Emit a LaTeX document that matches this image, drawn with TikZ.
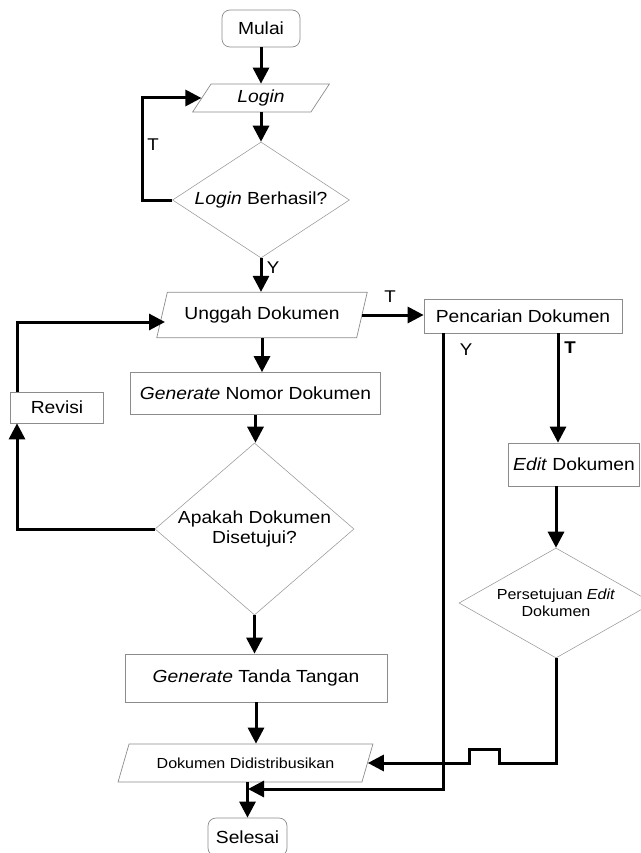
\documentclass[tikz,border=0pt]{standalone}
\usepackage{fontspec}
\setmainfont{Liberation Sans}[FakeStretch=1.1]
\usetikzlibrary{shapes.geometric,arrows.meta,calc}
\tikzset{
  arr/.style={line width=3pt,-{Triangle[length=16pt,width=16pt]}},
  big/.style={font=\fontsize{17.5}{20}\selectfont},
  small/.style={font=\fontsize{14.6}{17.5}\selectfont},
  box/.style={draw=gray!90,line width=0.7pt,fill=white,rectangle,inner sep=0pt,big},
  term/.style={box,rounded corners=8pt},
  io/.style={draw=gray!90,line width=0.7pt,fill=white,trapezium,trapezium stretches=true,inner sep=0pt,big},
  dia/.style={draw=gray!80,line width=0.55pt,fill=white,diamond,inner sep=-12pt,big,align=center},
  lbl/.style={inner sep=0pt,font=\fontsize{17}{19}\selectfont}
}
\begin{document}
\begin{tikzpicture}[x=1pt,y=-1pt]
\useasboundingbox (0,0) rectangle (640,853);
% nodes
\node[term,minimum width=78,minimum height=37] (start) at (261,28.5) {Mulai};
\node[io,minimum width=137,minimum height=28,trapezium left angle=62,trapezium right angle=118] (login) at (261,98) {\itshape Login};
\node[dia,minimum width=177,minimum height=116] (dec1) at (261,200) {\textit{Login} Berhasil?};
\node[io,minimum width=211,minimum height=45.5,trapezium left angle=62,trapezium right angle=118] (upload) at (262,315) {Unggah Dokumen};
\node[box,minimum width=198,minimum height=34] (search) at (523,316) {Pencarian Dokumen};
\node[box,minimum width=250,minimum height=42] (gen1) at (255.5,393.5) {\textit{Generate} Nomor Dokumen};
\node[box,minimum width=93,minimum height=31] (revisi) at (57,407.5) {Revisi};
\node[dia,minimum width=199,minimum height=172] (dec2) at (254.5,529) {Apakah Dokumen\\Disetujui?};
\node[box,minimum width=262,minimum height=48] (gen2) at (256,678) {\textit{Generate} Tanda Tangan};
\node[io,small,minimum width=255,minimum height=38,trapezium left angle=52,trapezium right angle=128] (dist) at (245.5,763) {Dokumen Didistribusikan};
\node[term,minimum width=79,minimum height=38] (end) at (247.5,837) {Selesai};
\node[box,minimum width=131,minimum height=43] (edit) at (574,464.5) {\textit{Edit} Dokumen};
\node[dia,small,minimum width=194,minimum height=110] (dec3) at (556,603) {Persetujuan \textit{Edit}\\Dokumen};
% helper coordinates
\coordinate (lx) at (17,0);
\coordinate (loopx) at (142,0);
\coordinate (uw) at (165,322);
\coordinate (ys) at (443,0);
\coordinate (ts) at (558,0);
\coordinate (yj) at (248,789);
% connectors
\draw[arr] (start.south) -- (start.south |- login.north);
\draw[arr] (login.south -| login.center) -- (dec1.north);
\draw[arr] (dec1.west) -- (loopx |- dec1.west) -- (loopx |- login.west) -- (login.west);
\draw[arr] (dec1.south) -- (dec1.south |- upload.north);
\draw[arr] (upload.east) -- (upload.east -| search.west);
\draw[arr] (upload.south -| upload.center) -- (gen1.north -| upload.center);
\draw[arr] (gen1.south) -- (gen1.south |- dec2.north);
\draw[arr] (dec2.west) -- (lx |- dec2.west) -- (lx |- revisi.south);
\draw[arr] (lx |- revisi.north) -- (lx |- uw) -- (uw);
\draw[arr] (dec2.south) -- (dec2.south |- gen2.north);
\draw[arr] (gen2.south) -- (gen2.south |- dist.north);
\draw[arr] (end.north |- dist.south) -- (end.north);
\draw[arr] (ys |- search.south) -- (ys |- yj) -- (yj);
\draw[arr] (ts |- search.south) -- (ts |- edit.north);
\draw[arr] (dec3.north |- edit.south) -- (dec3.north);
\draw[arr] (dec3.south) -- (dec3.south |- dist.east) -- ($(dist.east)+(132,0)$) -- ++(0,-14) -- ++(-30,0) -- ++(0,14) -- (dist.east);
% labels
\node[lbl] (lt1) at (153,145) {T};
\node[lbl] (ly1) at (273,268) {Y};
\node[lbl] (lt2) at (390,297) {T};
\node[lbl] (ly2) at (466,350) {Y};
\node[lbl,font=\fontsize{17}{19}\selectfont\bfseries] (lt3) at (570,348) {T};
\end{tikzpicture}
\end{document}
